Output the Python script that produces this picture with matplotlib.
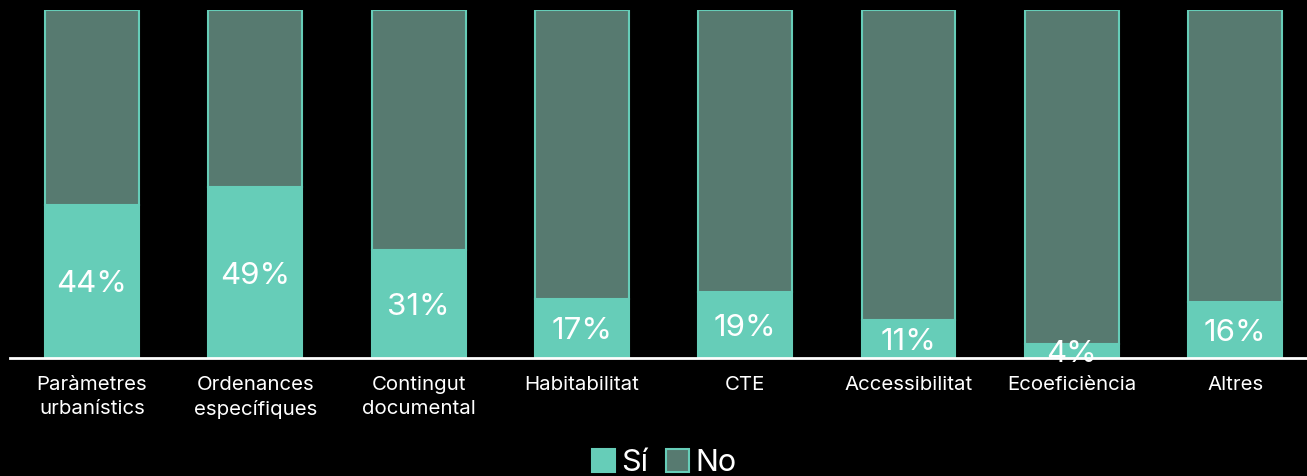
import numpy as np
import matplotlib
matplotlib.use("Agg")
import matplotlib.pyplot as plt

categories = ["Paràmetres\nurbanístics", "Ordenances\nespecífiques", "Contingut\ndocumental",
              "Habitabilitat", "CTE", "Accessibilitat", "Ecoeficiència", "Altres"]
si_values = [44, 49, 31, 17, 19, 11, 4, 16]
no_values = [100 - v for v in si_values]

si_color = "#66CDB8"
no_color = "#577A70"

plt.rcParams['font.family'] = ['Inter', 'DejaVu Sans']

fig = plt.figure(figsize=(13.07, 4.76), dpi=100, facecolor="black")
ax = fig.add_axes([10 / 1307, 118 / 476, 1297 / 1307, 348 / 476], facecolor="black")

x = np.arange(len(categories))
ax.bar(x, si_values, width=0.575, color=si_color, edgecolor=si_color, linewidth=1.5, label="Sí")
ax.bar(x, no_values, width=0.575, bottom=si_values, color=no_color, edgecolor=si_color,
       linewidth=1.5, label="No")

for xi, v in zip(x, si_values):
    ax.text(xi, v / 2 - 0.8, f"{v}%", ha="center", va="center", color="white", fontsize=22.5)

ax.set_xlim(-0.502, 7.44)
ax.set_ylim(0, 100)
ax.set_xticks(x)
ax.set_xticklabels(categories, color="white", fontsize=14.7, linespacing=1.4)
ax.tick_params(axis="x", length=0, pad=13)
ax.set_yticks([])
for side in ["top", "right", "left"]:
    ax.spines[side].set_visible(False)
ax.spines["bottom"].set_color("white")
ax.spines["bottom"].set_linewidth(2)

leg = fig.legend(loc="center", bbox_to_anchor=(664 / 1307, 13 / 476), ncol=2, frameon=False,
                 fontsize=22, handlelength=0.75, handleheight=0.75, handletextpad=0.2,
                 columnspacing=0.6, labelcolor="white")

fig.savefig("out.png", dpi=100, facecolor="black")
